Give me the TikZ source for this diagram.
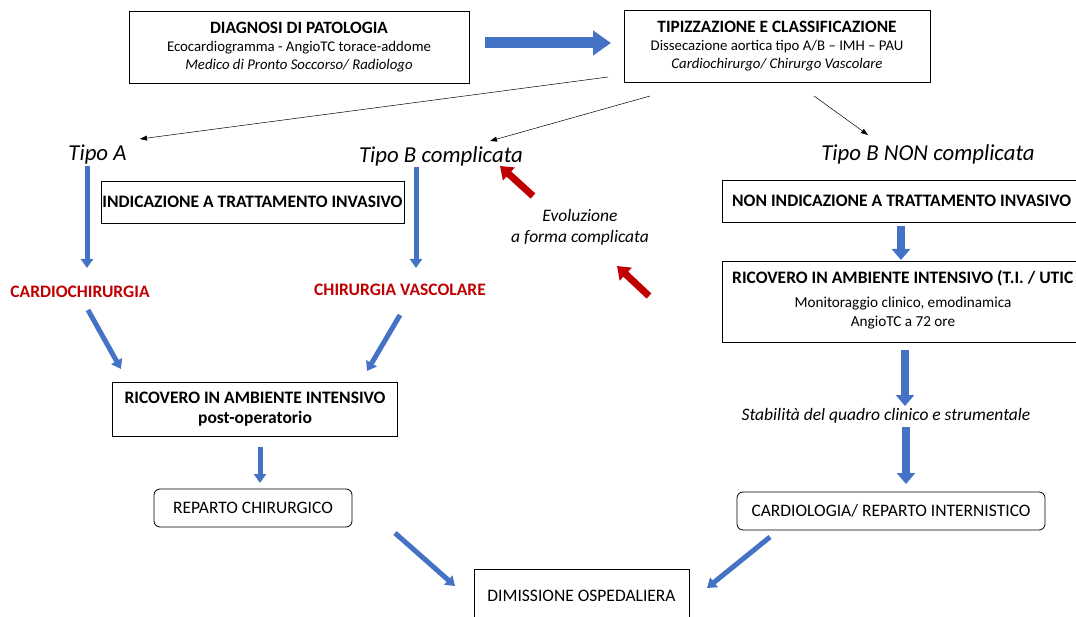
\documentclass[tikz,border=0pt]{standalone}
\usepackage{fontspec}
\setmainfont{Carlito}
\usetikzlibrary{arrows.meta}
\definecolor{ablue}{HTML}{4472C4}
\definecolor{ared}{HTML}{C00000}
\tikzset{
  box/.style={draw=black, line width=0.8pt, align=center, inner sep=0pt},
  rbox/.style={box, rounded corners=6pt},
  thinarr/.style={draw=black, line width=0.5pt, -{Triangle[length=7pt,width=5pt]}},
  bluearr/.style={draw=ablue, line width=5pt, -{Triangle[length=9pt,width=12pt]}},
  bigblue/.style={draw=ablue, line width=8pt, -{Triangle[length=11pt,width=18pt]}},
  redarr/.style={draw=ared, line width=7pt, -{Triangle[length=12pt,width=17pt]}},
  tipo/.style={font=\fontsize{22.8}{26}\selectfont\itshape},
  redlbl/.style={text=ared, font=\fontsize{17.5}{20}\selectfont\bfseries},
  big/.style={font=\fontsize{17.5}{20}\selectfont},
  bigb/.style={font=\fontsize{17.5}{20}\selectfont\bfseries},
}
\begin{document}
\begin{tikzpicture}[x=1pt,y=-1pt]
\useasboundingbox (0,0) rectangle (1076,617);
\begin{scope}
\clip (0,0) rectangle (1076,617);
% top boxes
\node[box, minimum width=340, minimum height=72, font=\fontsize{14.8}{18}\selectfont] (diag) at (299,47)
  {{\bfseries\fontsize{17.3}{18}\selectfont DIAGNOSI DI PATOLOGIA}\\Ecocardiogramma - AngioTC torace-addome\\\itshape Medico di Pronto Soccorso/ Radiologo};
\node[box, minimum width=306, minimum height=72, font=\fontsize{14.8}{18}\selectfont] (tip) at (777,46)
  {{\bfseries\fontsize{17.3}{18}\selectfont TIPIZZAZIONE E CLASSIFICAZIONE}\\Dissecazione aortica tipo A/B -- IMH -- PAU\\\itshape Cardiochirurgo/ Chirurgo Vascolare};
% tipo labels
\node[tipo] (tA) at (97.5,154) {Tipo A};
\node[tipo] (tBc) at (441,156) {Tipo B complicata};
\node[tipo] (tBn) at (928,154) {Tipo B NON complicata};
% indicazione
\node[box, minimum width=303, minimum height=42, bigb] (ind) at (252.5,202) {INDICAZIONE A TRATTAMENTO INVASIVO};
% red labels
\node[redlbl] (cc) at (80,292) {CARDIOCHIRURGIA};
\node[redlbl] (cv) at (400,290) {CHIRURGIA VASCOLARE};
% evoluzione
\node[align=center, font=\fontsize{17.5}{21}\selectfont\itshape] (evo) at (580,227) {Evoluzione\\a forma complicata};
% left column
\node[box, minimum width=285, minimum height=54, font=\fontsize{17.5}{20.5}\selectfont\bfseries] (ricL) at (255,409) {RICOVERO IN AMBIENTE INTENSIVO\\post-operatorio};
\node[rbox, minimum width=198, minimum height=38, big] (rep) at (253,508) {REPARTO CHIRURGICO};
\node[box, minimum width=215, minimum height=54, big] (dim) at (581.5,596) {DIMISSIONE OSPEDALIERA};
% right column
\node[box, anchor=west, minimum width=370, minimum height=42] (nind) at (722,201) {};
\node[anchor=west, inner sep=0pt, bigb] (nindt) at (732,201) {NON INDICAZIONE A TRATTAMENTO INVASIVO};
\node[box, anchor=north west, minimum width=370, minimum height=81] (ricR) at (722,261) {};
\node[anchor=west, inner sep=0pt, bigb] (ricRt) at (732,278) {RICOVERO IN AMBIENTE INTENSIVO (T.I. / UTIC};
\node[align=center, inner sep=0pt, font=\fontsize{15.2}{19}\selectfont] (mon) at (903,313.5) {Monitoraggio clinico, emodinamica\\AngioTC a 72 ore};
\node[font=\fontsize{17.5}{20}\selectfont\itshape] (stab) at (886,416) {Stabilità del quadro clinico e strumentale};
\node[rbox, minimum width=308, minimum height=38, big] (card) at (891,511) {CARDIOLOGIA/ REPARTO INTERNISTICO};
% arrow end coordinates
\coordinate (a1s) at (485,43); \coordinate (a1e) at (611,43);
\coordinate (k1s) at (608,77); \coordinate (k1e) at (140,139);
\coordinate (k2s) at (650,96); \coordinate (k2e) at (490,141);
\coordinate (k3s) at (814,96); \coordinate (k3e) at (868,135);
\coordinate (v1s) at (87,166); \coordinate (v1e) at (87,268);
\coordinate (v2s) at (416,167); \coordinate (v2e) at (416,268);
\coordinate (d1s) at (88,310); \coordinate (d1e) at (121,369);
\coordinate (d2s) at (400,315); \coordinate (d2e) at (367,371);
\coordinate (v3s) at (260,447); \coordinate (v3e) at (260,483);
\coordinate (d3s) at (395,533); \coordinate (d3e) at (455,586);
\coordinate (d4s) at (770,537); \coordinate (d4e) at (707,588);
\coordinate (r1s) at (533,196); \coordinate (r1e) at (500,166);
\coordinate (r2s) at (649,296); \coordinate (r2e) at (617,266);
\coordinate (w1s) at (901,226); \coordinate (w1e) at (901,260);
\coordinate (w2s) at (905,350); \coordinate (w2e) at (905,406);
\coordinate (w3s) at (906,427); \coordinate (w3e) at (906,484);
% connectors
\draw[draw=ablue, line width=11pt, -{Triangle[length=18pt,width=24pt]}] (a1s) -- (a1e);
\draw[thinarr] (k1s) -- (k1e);
\draw[thinarr] (k2s) -- (k2e);
\draw[thinarr] (k3s) -- (k3e);
\draw[bluearr] (v1s) -- (v1e);
\draw[bluearr] (v2s) -- (v2e);
\draw[bluearr] (d1s) -- (d1e);
\draw[bluearr] (d2s) -- (d2e);
\draw[bluearr] (v3s) -- (v3e);
\draw[bluearr] (d3s) -- (d3e);
\draw[bluearr] (d4s) -- (d4e);
\draw[redarr] (r1s) -- (r1e);
\draw[redarr] (r2s) -- (r2e);
\draw[bigblue] (w1s) -- (w1e);
\draw[bigblue] (w2s) -- (w2e);
\draw[bigblue] (w3s) -- (w3e);
\end{scope}
\end{tikzpicture}
\end{document}
